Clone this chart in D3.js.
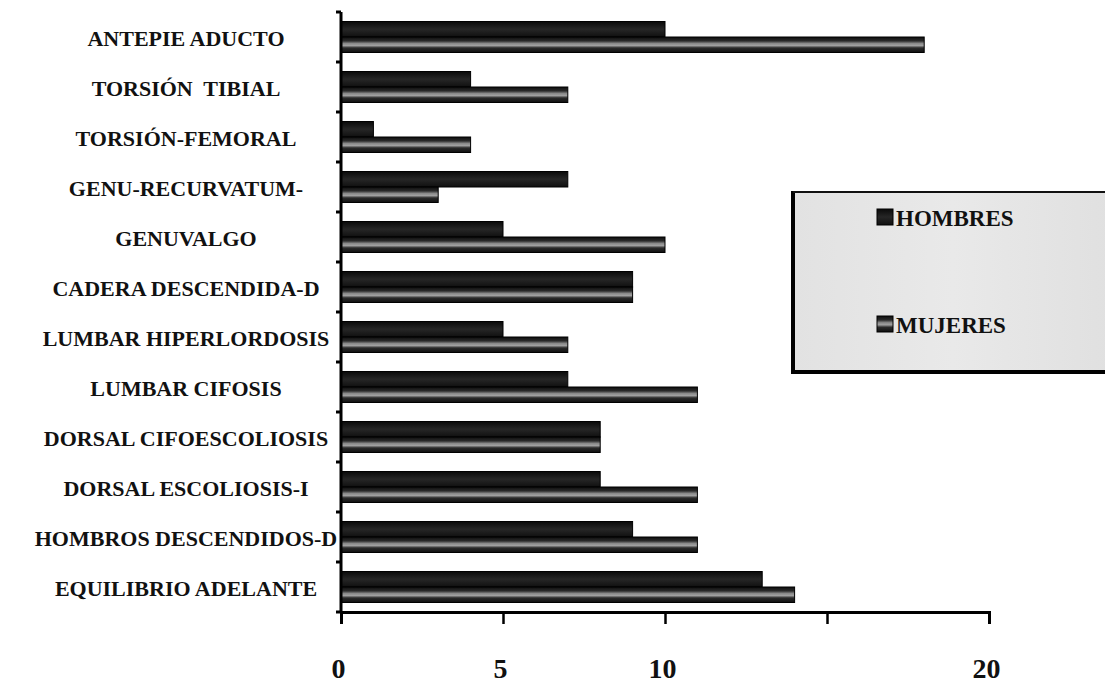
<!DOCTYPE html>
<html>
<head>
<meta charset="utf-8">
<script src="https://cdn.jsdelivr.net/npm/d3@7/dist/d3.min.js"></script>
<style>
  html, body { margin: 0; padding: 0; background: #ffffff; }
  svg { display: block; }
  svg text { font-family: "Liberation Serif", "Tinos", "Times New Roman", Times, "DejaVu Serif", serif; font-weight: bold; }
</style>
</head>
<body>
<svg id="chart" width="1105" height="686"></svg>
<script>
// ---- data (top to bottom) ----
const categories = [
  "ANTEPIE ADUCTO",
  "TORSIÓN  TIBIAL",
  "TORSIÓN-FEMORAL",
  "GENU-RECURVATUM-",
  "GENUVALGO",
  "CADERA DESCENDIDA-D",
  "LUMBAR HIPERLORDOSIS",
  "LUMBAR CIFOSIS",
  "DORSAL CIFOESCOLIOSIS",
  "DORSAL ESCOLIOSIS-I",
  "HOMBROS DESCENDIDOS-D",
  "EQUILIBRIO ADELANTE"
];
const hombres = [10, 4, 1, 7, 5, 9, 5, 7, 8, 8, 9, 13];
const mujeres = [18, 7, 4, 3, 10, 9, 7, 11, 8, 11, 11, 14];
const seriesNames = ["HOMBRES", "MUJERES"];
const tickValues = [0, 5, 10, 15, 20];
const tickLabels = ["0", "5", "10", "", "20"];

// ---- layout ----
const svg = d3.select("#chart");
const mLeft = 341, mRight = 989, mTop = 12, mBottom = 612;

const x = d3.scaleLinear().domain([0, 20]).range([mLeft, mRight]);
const y = d3.scaleBand().domain(categories).range([mTop, mBottom]).paddingInner(0.38).paddingOuter(0.19);
const ySub = d3.scaleBand().domain(seriesNames).range([0, y.bandwidth()]);

const defs = svg.append("defs");
const gM = defs.append("linearGradient").attr("id", "gradM").attr("x1", 0).attr("x2", 0).attr("y1", 0).attr("y2", 1);
[[0, "#0e0e0e"], [0.25, "#2a2a2a"], [0.42, "#8a8a8a"], [0.55, "#a0a0a0"], [0.7, "#2c2c2c"], [1, "#0e0e0e"]]
  .forEach(([o, c]) => gM.append("stop").attr("offset", o).attr("stop-color", c));
const gH = defs.append("linearGradient").attr("id", "gradH").attr("x1", 0).attr("x2", 0).attr("y1", 0).attr("y2", 1);
[[0, "#0a0a0a"], [0.5, "#262626"], [1, "#101010"]]
  .forEach(([o, c]) => gH.append("stop").attr("offset", o).attr("stop-color", c));
const gL = defs.append("linearGradient").attr("id", "gradL").attr("x1", 0).attr("x2", 1).attr("y1", 0).attr("y2", 0);
[[0, "#e2e2e2"], [0.5, "#e9e9e9"], [1, "#e0e0e0"]]
  .forEach(([o, c]) => gL.append("stop").attr("offset", o).attr("stop-color", c));

const fills = { HOMBRES: "url(#gradH)", MUJERES: "url(#gradM)" };
const data = categories.map((c, i) => ({ cat: c, values: [
  { s: "HOMBRES", v: hombres[i] }, { s: "MUJERES", v: mujeres[i] } ] }));

// bars
const groups = svg.append("g").selectAll("g").data(data).join("g")
  .attr("transform", d => `translate(0,${y(d.cat)})`);
groups.selectAll("rect").data(d => d.values).join("rect")
  .attr("x", x(0))
  .attr("y", d => ySub(d.s))
  .attr("width", d => x(d.v) - x(0))
  .attr("height", ySub.bandwidth())
  .attr("fill", d => fills[d.s])
  .attr("stroke", "#000")
  .attr("stroke-width", 1);

// y axis line + ticks at band boundaries
const yAxisG = svg.append("g");
yAxisG.append("line").attr("x1", mLeft).attr("x2", mLeft).attr("y1", mTop).attr("y2", mBottom)
  .attr("stroke", "#000").attr("stroke-width", 3);
yAxisG.selectAll("line.tk").data(d3.range(categories.length + 1)).join("line")
  .attr("class", "tk")
  .attr("x1", mLeft - 5).attr("x2", mLeft)
  .attr("y1", i => mTop + i * (mBottom - mTop) / categories.length)
  .attr("y2", i => mTop + i * (mBottom - mTop) / categories.length)
  .attr("stroke", "#000").attr("stroke-width", 3);

// category labels
svg.append("g").selectAll("text").data(categories).join("text")
  .attr("x", 186)
  .attr("y", d => y(d) + y.bandwidth() / 2 + 1)
  .attr("text-anchor", "middle")
  .attr("dominant-baseline", "central")
  .attr("font-size", 22)
  .attr("fill", "#111")
  .style("white-space", "pre")
  .text(d => d);

// x axis
const xAxis = d3.axisBottom(x).tickValues(tickValues).tickSize(12)
  .tickFormat((d, i) => tickLabels[i]).tickPadding(34);
const xg = svg.append("g").attr("transform", `translate(0,${mBottom})`).call(xAxis);
xg.attr("font-family", null);
xg.select(".domain").attr("stroke", "#000").attr("stroke-width", 3);
xg.selectAll(".tick line").attr("stroke", "#000").attr("stroke-width", 2.5);
xg.selectAll(".tick text")
  .attr("font-size", 28)
  .attr("fill", "#111")
  .attr("dx", -3);

// legend
const lg = svg.append("g");
lg.append("rect").attr("x", 793).attr("y", 192).attr("width", 320).attr("height", 180)
  .attr("fill", "url(#gradL)");
lg.append("line").attr("x1", 793).attr("x2", 793).attr("y1", 191).attr("y2", 373).attr("stroke", "#000").attr("stroke-width", 4);
lg.append("line").attr("x1", 791).attr("x2", 1105).attr("y1", 372).attr("y2", 372).attr("stroke", "#000").attr("stroke-width", 4);
lg.append("line").attr("x1", 793).attr("x2", 1105).attr("y1", 192).attr("y2", 192).attr("stroke", "#111").attr("stroke-width", 2);
const items = lg.selectAll("g.item").data(seriesNames).join("g").attr("class", "item")
  .attr("transform", (d, i) => `translate(877,${217 + i * 107})`);
items.append("rect").attr("x", 0).attr("y", -8).attr("width", 16).attr("height", 16)
  .attr("fill", d => fills[d]).attr("stroke", "#000").attr("stroke-width", 1);
items.append("text").attr("x", 19).attr("y", 1)
  .attr("dominant-baseline", "central")
  .attr("font-size", 23)
  .attr("fill", "#111")
  .text(d => d);
</script>
</body>
</html>
